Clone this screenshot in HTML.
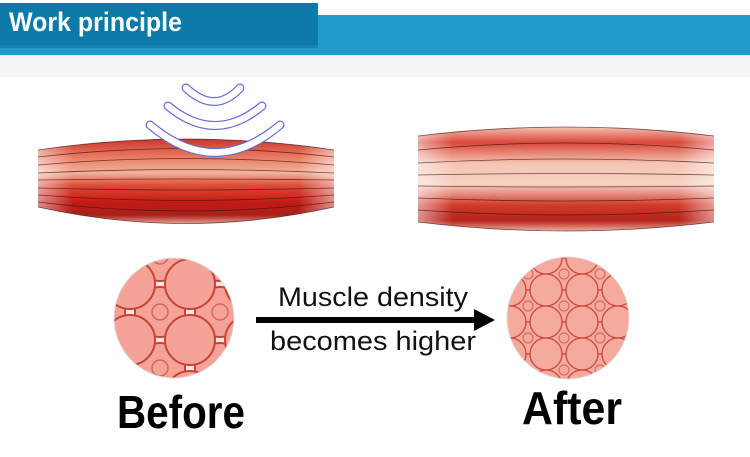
<!DOCTYPE html>
<html><head><meta charset="utf-8"><style>
body{margin:0;width:750px;height:452px;overflow:hidden;background:#fff;font-family:"Liberation Sans","DejaVu Sans",sans-serif}
</style></head><body>
<svg width="750" height="452" viewBox="0 0 750 452" xmlns="http://www.w3.org/2000/svg">
<defs>
<linearGradient id="mL" x1="0" y1="0" x2="0" y2="1">
<stop offset="0" stop-color="#c9352a"/><stop offset="0.2" stop-color="#e9765e"/><stop offset="0.4" stop-color="#f2b39c"/><stop offset="0.55" stop-color="#e04a35"/><stop offset="0.75" stop-color="#c41a14"/><stop offset="0.9" stop-color="#a8201a"/><stop offset="1" stop-color="#e8a090"/>
</linearGradient>
<linearGradient id="mR" x1="0" y1="0" x2="0" y2="1">
<stop offset="0" stop-color="#f4c0b0"/><stop offset="0.15" stop-color="#d9473a"/><stop offset="0.35" stop-color="#f5c5b3"/><stop offset="0.55" stop-color="#f6d2c3"/><stop offset="0.75" stop-color="#d23a2c"/><stop offset="0.9" stop-color="#b52018"/><stop offset="1" stop-color="#f0b0a0"/>
</linearGradient>
<linearGradient id="fade" x1="0" y1="0" x2="1" y2="0">
<stop offset="0" stop-color="#fff" stop-opacity="0.5"/><stop offset="0.12" stop-color="#fff" stop-opacity="0"/><stop offset="0.88" stop-color="#fff" stop-opacity="0"/><stop offset="1" stop-color="#fff" stop-opacity="0.5"/>
</linearGradient>
<pattern id="cellsB" width="60" height="56" patternUnits="userSpaceOnUse" x="10" y="4">
<rect width="60" height="56" fill="#fbe6e0"/>
<circle cx="30" cy="28" r="25" fill="#f4a396" stroke="#c9423a" stroke-width="2"/>
<circle cx="30" cy="28" r="8" fill="none" stroke="#d9645a" stroke-width="1.5"/>
<circle cx="0" cy="0" r="25" fill="#f4a396" stroke="#c9423a" stroke-width="2"/>
<circle cx="60" cy="0" r="25" fill="#f4a396" stroke="#c9423a" stroke-width="2"/>
<circle cx="0" cy="56" r="25" fill="#f4a396" stroke="#c9423a" stroke-width="2"/>
<circle cx="60" cy="56" r="25" fill="#f4a396" stroke="#c9423a" stroke-width="2"/>
</pattern>
<pattern id="cellsA" width="36" height="32" patternUnits="userSpaceOnUse" x="6" y="2">
<rect width="36" height="32" fill="#f2a597"/>
<circle cx="18" cy="16" r="16" fill="#f4aa9c" stroke="#d0453b" stroke-width="1.3"/>
<circle cx="18" cy="16" r="5" fill="none" stroke="#d86058" stroke-width="1"/>
<circle cx="0" cy="0" r="16" fill="#f4aa9c" stroke="#d0453b" stroke-width="1.3"/>
<circle cx="36" cy="0" r="16" fill="#f4aa9c" stroke="#d0453b" stroke-width="1.3"/>
<circle cx="0" cy="32" r="16" fill="#f4aa9c" stroke="#d0453b" stroke-width="1.3"/>
<circle cx="36" cy="32" r="16" fill="#f4aa9c" stroke="#d0453b" stroke-width="1.3"/>
</pattern>
<clipPath id="cb"><circle cx="174" cy="318" r="60"/></clipPath>
<clipPath id="ca"><circle cx="568" cy="318" r="61"/></clipPath>
</defs>
<rect x="0" y="15" width="750" height="40" fill="#1f9bcc"/>
<rect x="0" y="3" width="318" height="42" fill="#0b7aa8"/>
<rect x="0" y="45" width="318" height="3" fill="#0a6c94" opacity="0.5"/>
<text x="9" y="31" font-size="27" font-weight="bold" fill="#fff" textLength="173" lengthAdjust="spacingAndGlyphs">Work principle</text>
<rect x="0" y="55" width="750" height="22" fill="#f5f4f6"/>
<path d="M38 150 Q186 128 334 150 L334 207 Q186 240 38 207 Z" fill="url(#mL)"/>
<path d="M38 150 Q186 128 334 150 L334 207 Q186 240 38 207 Z" fill="url(#fade)"/>
<g fill="none" stroke="#3a1010" stroke-width="0.8" opacity="0.7">
<path d="M38 150 Q186 128 334 150"/><path d="M38 157 Q186 140 334 157"/><path d="M38 165 Q186 152 334 165"/><path d="M38 173 Q186 166 334 173"/><path d="M38 180 Q186 178 334 180"/><path d="M38 188 Q186 192 334 188"/><path d="M38 195 Q186 206 334 195"/><path d="M38 202 Q186 220 334 202"/><path d="M38 207 Q186 240 334 207"/>
</g>
<g fill="none" stroke="#6a6ae0" stroke-width="9" stroke-linecap="round">
<path d="M186 88 Q215 115 240 88"/><path d="M168 106 Q215 145 262 106"/><path d="M150 125 Q215 180 280 125"/>
</g>
<g fill="none" stroke="#fff" stroke-width="6.5" stroke-linecap="round">
<path d="M186 88 Q215 115 240 88"/><path d="M168 106 Q215 145 262 106"/><path d="M150 125 Q215 180 280 125"/>
</g>
<path d="M418 136 Q566 118 714 136 L714 222 Q566 240 418 222 Z" fill="url(#mR)"/>
<path d="M418 136 Q566 118 714 136 L714 222 Q566 240 418 222 Z" fill="url(#fade)"/>
<g fill="none" stroke="#3a1010" stroke-width="0.8" opacity="0.7">
<path d="M418 136 Q566 118 714 136"/><path d="M418 150 Q566 136 714 150"/><path d="M418 163 Q566 155 714 163"/><path d="M418 175 Q566 172 714 175"/><path d="M418 186 Q566 188 714 186"/><path d="M418 198 Q566 204 714 198"/><path d="M418 210 Q566 220 714 210"/><path d="M418 222 Q566 240 714 222"/>
</g>
<g clip-path="url(#cb)"><rect x="100" y="250" width="150" height="140" fill="url(#cellsB)"/></g>
<circle cx="174" cy="318" r="60" fill="none" stroke="#ddd" stroke-width="1"/>
<g clip-path="url(#ca)"><rect x="500" y="250" width="140" height="140" fill="url(#cellsA)"/></g>
<circle cx="568" cy="318" r="61" fill="none" stroke="#ddd" stroke-width="1"/>
<rect x="256" y="317" width="222" height="6" fill="#000"/>
<polygon points="474,309 495,320 474,331" fill="#000"/>
<text x="278" y="306" font-size="27" fill="#111" textLength="190" lengthAdjust="spacingAndGlyphs">Muscle density</text>
<text x="270" y="350" font-size="27" fill="#111" textLength="206" lengthAdjust="spacingAndGlyphs">becomes higher</text>
<text x="117" y="428" font-size="46" font-weight="bold" fill="#000" textLength="128" lengthAdjust="spacingAndGlyphs">Before</text>
<text x="522" y="424" font-size="46" font-weight="bold" fill="#000" textLength="100" lengthAdjust="spacingAndGlyphs">After</text>
</svg>
</body></html>
